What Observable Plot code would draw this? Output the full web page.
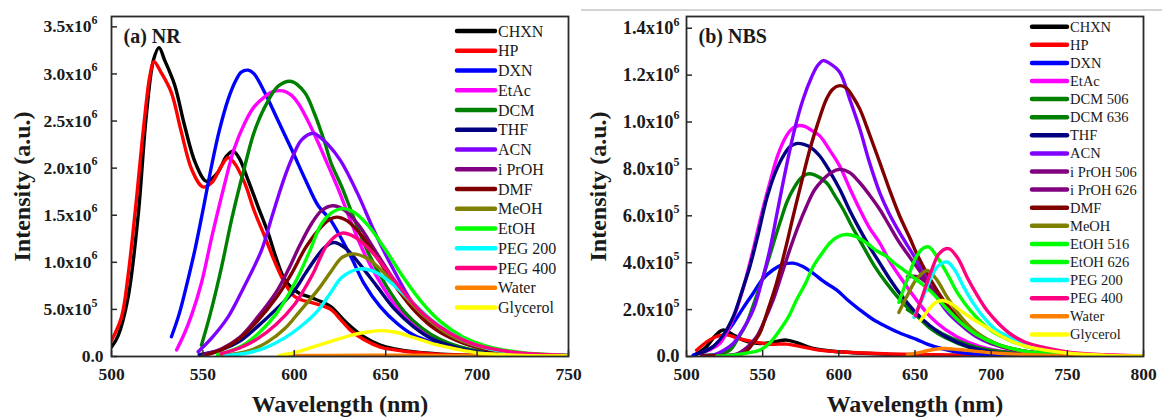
<!DOCTYPE html>
<html>
<head>
<meta charset="utf-8">
<script src="https://cdn.jsdelivr.net/npm/d3@7"></script>
<script src="https://cdn.jsdelivr.net/npm/@observablehq/plot@0.6"></script>
<style>
  body { margin: 0; background: #fff; }
  #wrap { position: relative; width: 1162px; height: 419px; overflow: hidden; background: #fff; }
  #wrap svg { position: absolute; top: 0; }
</style>
</head>
<body>
<div id="wrap"></div>
<script>
// ---------- (a) NR emission spectra, intensity in units of 10^6 ----------
const nrNames = ["CHXN", "HP", "DXN", "EtAc", "DCM", "THF", "ACN", "i PrOH", "DMF", "MeOH", "EtOH", "PEG 200", "PEG 400", "Water", "Glycerol"];
const nrColors = ["#000000", "#ff0000", "#0000ff", "#ff00ff", "#008000", "#000080", "#8000ff", "#800080", "#800000", "#808000", "#00ff00", "#00ffff", "#ff0080", "#ff8000", "#ffff00"];

const nrCHXN = [[500,0.10],[503.6,0.22],[509,0.62],[514.6,1.50],[519,2.55],[523,3.15],[526,3.28],[529,3.15],[534.6,2.88],[540,2.45],[546,2.05],[552,1.86],[558,1.95],[563,2.13],[566.6,2.18],[570,2.10],[574,1.91],[580,1.60],[585.7,1.31],[590,1.05],[595,0.81],[602,0.68],[610,0.62],[615,0.58],[620,0.53],[625,0.43],[630.7,0.32],[638,0.21],[647,0.12],[655,0.08],[665,0.05],[680,0.025],[700,0.012],[725,0.006],[750,0.003]];
const nrHP = [[500,0.17],[505.5,0.42],[509,0.85],[512.7,1.49],[518.2,2.55],[521,2.98],[523.3,3.13],[527,3.02],[532.8,2.80],[538,2.40],[544,1.98],[550,1.80],[555,1.85],[560,2.02],[563.8,2.11],[567,2.06],[572.9,1.84],[578,1.55],[583.9,1.27],[589,1.02],[594.8,0.78],[600,0.64],[604,0.60],[610,0.57],[615,0.54],[620,0.50],[625,0.40],[630.7,0.28],[638,0.18],[647,0.10],[655,0.07],[665,0.045],[680,0.022],[700,0.01],[725,0.005],[750,0.003]];
const nrDXN = [[532.8,0.21],[537,0.45],[541,0.75],[545.6,1.13],[550,1.55],[554.7,2.02],[559,2.40],[563.8,2.73],[568,2.93],[571,3.02],[574.8,3.04],[578,3.00],[583.9,2.80],[590,2.55],[598.5,2.20],[606,1.88],[613.1,1.60],[619.8,1.45],[625.8,1.25],[632,1.02],[638,0.78],[647,0.53],[656.3,0.35],[665,0.23],[674.5,0.156],[688,0.09],[701.9,0.05],[725,0.02],[750,0.008]];
const nrEtAc = [[535.6,0.07],[540,0.25],[544,0.45],[549.2,0.78],[555,1.28],[562,1.84],[567,2.20],[572.9,2.48],[578,2.65],[583.9,2.76],[588,2.81],[593.9,2.82],[598,2.78],[602.1,2.69],[607,2.52],[613.1,2.27],[618,2.05],[624,1.78],[630,1.48],[637,1.15],[645,0.85],[655,0.55],[665,0.34],[675,0.21],[690,0.10],[705,0.05],[725,0.02],[750,0.006]];
const nrDCM = [[549.2,0.12],[554,0.45],[560.2,0.95],[566,1.48],[572.9,2.02],[578,2.38],[583.9,2.65],[591.2,2.87],[598.5,2.92],[605.8,2.80],[611,2.58],[616.7,2.27],[620,2.06],[626,1.80],[632,1.50],[640,1.12],[650,0.76],[660,0.48],[670,0.30],[680,0.18],[695,0.08],[710,0.04],[730,0.015],[750,0.006]];
const nrTHF = [[548,0.02],[560,0.07],[570,0.16],[580,0.32],[590,0.50],[600,0.70],[606,0.88],[612,1.05],[616.7,1.16],[621.6,1.21],[628,1.15],[635,1.00],[645,0.75],[655,0.50],[665,0.32],[675,0.19],[690,0.09],[705,0.04],[725,0.015],[750,0.005]];
const nrACN = [[547.4,0.05],[555,0.20],[563.8,0.42],[572,0.72],[582.1,1.13],[588,1.50],[594.8,1.91],[600,2.16],[604,2.30],[610.3,2.37],[614,2.33],[618.5,2.25],[625.3,2.08],[634.4,1.74],[643.5,1.34],[650,1.08],[656.3,0.85],[663,0.62],[670.8,0.42],[680,0.27],[689.1,0.17],[700,0.10],[711,0.065],[730,0.025],[750,0.01]];
const nrIPrOH = [[550,0.02],[560,0.08],[570,0.20],[580,0.42],[590,0.68],[596.7,0.92],[603,1.18],[609.4,1.41],[615,1.55],[621,1.60],[627,1.56],[635,1.40],[645,1.10],[655,0.80],[665,0.54],[675,0.35],[690,0.17],[705,0.08],[725,0.025],[750,0.008]];
const nrDMF = [[552,0.02],[560,0.07],[570,0.19],[580,0.38],[590,0.62],[598.5,0.88],[606,1.15],[613.1,1.34],[619,1.45],[623,1.48],[629,1.44],[637,1.28],[647,1.00],[657,0.70],[667,0.46],[677,0.29],[690,0.16],[705,0.075],[725,0.025],[750,0.008]];
const nrMeOH = [[560,0.01],[575,0.06],[585,0.15],[595,0.30],[603,0.48],[613,0.71],[620,0.90],[626,1.05],[632,1.09],[640,1.04],[650,0.87],[660,0.65],[670,0.45],[685,0.23],[700,0.11],[725,0.035],[750,0.01]];
const nrEtOH = [[558,0.02],[565,0.06],[572,0.12],[580,0.24],[590,0.45],[600.3,0.78],[608,1.10],[614.9,1.41],[620,1.52],[626,1.57],[632,1.54],[640,1.40],[650,1.13],[660,0.83],[670,0.57],[680,0.37],[692,0.21],[705,0.11],[725,0.04],[750,0.012]];
const nrPEG200 = [[562,0.01],[575,0.04],[585,0.10],[595,0.20],[603,0.31],[613,0.49],[620,0.68],[626,0.84],[636,0.93],[645,0.89],[655,0.75],[665,0.57],[675,0.39],[690,0.20],[705,0.09],[725,0.03],[750,0.01]];
const nrPEG400 = [[560,0.03],[570,0.09],[580,0.19],[590,0.34],[600,0.55],[605,0.70],[610,0.87],[618.5,1.20],[626,1.31],[633,1.27],[642,1.12],[652,0.88],[662,0.63],[672,0.43],[685,0.25],[700,0.12],[720,0.045],[750,0.012]];
const nrWater = [[592,0.008],[620,0.012],[650,0.015],[680,0.012],[710,0.01],[750,0.008]];
const nrGlycerol = [[591.5,0.01],[600,0.04],[610,0.10],[620,0.16],[630,0.22],[640,0.26],[648,0.275],[656,0.255],[665.4,0.20],[675,0.14],[683.6,0.10],[692,0.065],[702,0.035],[725,0.012],[750,0.005]];
const nrSeries = [nrCHXN, nrHP, nrDXN, nrEtAc, nrDCM, nrTHF, nrACN, nrIPrOH, nrDMF, nrMeOH, nrEtOH, nrPEG200, nrPEG400, nrWater, nrGlycerol];

const nrXTicks = [500, 550, 600, 650, 700, 750];
const nrYTicks = [0, 0.5, 1, 1.5, 2, 2.5, 3, 3.5];
const nrYLabels = ["0.0", "5.0x10^5", "1.0x10^6", "1.5x10^6", "2.0x10^6", "2.5x10^6", "3.0x10^6", "3.5x10^6"];

// ---------- (b) NBS emission spectra, intensity in units of 10^6 ----------
const nbsNames = ["CHXN", "HP", "DXN", "EtAc", "DCM 506", "DCM 636", "THF", "ACN", "i PrOH 506", "i PrOH 626", "DMF", "MeOH", "EtOH 516", "EtOH 626", "PEG 200", "PEG 400", "Water", "Glycerol"];
const nbsColors = ["#000000", "#ff0000", "#0000ff", "#ff00ff", "#008000", "#008000", "#000080", "#8000ff", "#800080", "#800080", "#800000", "#808000", "#00ff00", "#00ff00", "#00ffff", "#ff0080", "#ff8000", "#ffff00"];

const nbsCHXN = [[505,0.005],[513.1,0.042],[519,0.09],[524.1,0.113],[530,0.095],[537.2,0.07],[544,0.058],[550.4,0.056],[558,0.063],[565.6,0.07],[572,0.06],[583.2,0.034],[600.6,0.02],[630,0.01],[670,0.005],[720,0.003],[800,0.001]];
const nbsHP = [[506.6,0.027],[515,0.07],[521,0.088],[526.3,0.092],[535,0.075],[543.8,0.063],[555,0.052],[565.6,0.053],[575,0.042],[587.5,0.027],[600,0.02],[630,0.012],[670,0.007],[720,0.004],[800,0.002]];
const nbsDXN = [[504.4,0.006],[510,0.018],[517.5,0.042],[524,0.085],[530.7,0.141],[537,0.205],[543.8,0.27],[550,0.33],[556.9,0.37],[563,0.392],[570,0.398],[576,0.385],[583.2,0.355],[590,0.32],[598.5,0.284],[606,0.24],[613.8,0.199],[622,0.16],[631.3,0.127],[640,0.10],[651,0.073],[658,0.053],[668,0.033],[679.9,0.017],[700,0.007],[750,0.002],[800,0.001]];
const nbsEtAc = [[508.7,0.013],[515,0.028],[521.9,0.056],[527,0.11],[532.8,0.199],[538,0.31],[543.8,0.456],[549,0.60],[554.7,0.741],[560,0.86],[565.6,0.941],[570,0.975],[574,0.985],[578,0.98],[582,0.965],[587.5,0.941],[594,0.88],[600.6,0.812],[607,0.72],[613.8,0.627],[620,0.55],[626.9,0.484],[633,0.41],[640,0.341],[651,0.241],[660,0.17],[670,0.115],[685,0.06],[700,0.03],[725,0.01],[750,0.004],[800,0.001]];
const nbsDCM506 = [[510,0.005],[520,0.01],[528.4,0.027],[534,0.08],[539.4,0.141],[545,0.24],[550.4,0.341],[556,0.46],[561.3,0.57],[566,0.66],[570,0.713],[575,0.76],[579,0.778],[584,0.775],[591.9,0.741],[597,0.69],[602.9,0.627],[609,0.55],[616,0.47],[623,0.39],[631.3,0.313],[642.3,0.227],[651,0.175],[660,0.12],[670,0.08],[685,0.04],[700,0.02],[730,0.006],[760,0.002],[800,0.001]];
const nbsDCM636 = [[645,0.20],[652,0.17],[662,0.12],[675,0.075],[690,0.04],[710,0.018],[740,0.006],[770,0.002],[800,0.001]];
const nbsTHF = [[506.6,0.01],[512,0.022],[517.5,0.042],[524,0.09],[530.7,0.17],[536,0.27],[541.6,0.384],[547,0.52],[552.5,0.67],[558,0.78],[563.5,0.855],[568,0.895],[572,0.908],[577,0.905],[582,0.89],[587.5,0.855],[594,0.79],[600.6,0.713],[607,0.625],[613.8,0.541],[620,0.47],[626.9,0.398],[633,0.335],[640,0.27],[651,0.184],[660,0.13],[670,0.085],[685,0.042],[700,0.02],[730,0.006],[760,0.002],[800,0.001]];
const nbsACN = [[510,0.003],[517.5,0.006],[524,0.025],[530.7,0.056],[537,0.115],[543.8,0.199],[549,0.31],[554.7,0.456],[560,0.63],[565.6,0.812],[571,0.97],[576.6,1.098],[582,1.19],[586,1.24],[589.7,1.262],[594,1.25],[600.6,1.212],[607,1.10],[613.8,0.97],[620,0.83],[626.9,0.698],[633,0.61],[640,0.527],[651,0.41],[660,0.30],[670,0.20],[680,0.135],[690,0.085],[700,0.055],[720,0.022],[750,0.007],[800,0.001]];
const nbsIPrOH506 = [[515,0.002],[525,0.004],[532.8,0.01],[540,0.04],[546,0.084],[551,0.15],[556.9,0.241],[562,0.34],[567.8,0.456],[573,0.55],[578.8,0.641],[584,0.71],[589.7,0.755],[595,0.785],[600.6,0.798],[607,0.785],[613.8,0.741],[620,0.69],[626.9,0.627],[633,0.56],[640,0.484],[651,0.384],[660,0.30],[670,0.21],[680,0.14],[690,0.09],[705,0.045],[725,0.018],[750,0.006],[800,0.001]];
const nbsIPrOH626 = [[645,0.34],[652,0.34],[660,0.30],[670,0.22],[680,0.15],[690,0.095],[705,0.048],[725,0.019],[750,0.006],[800,0.001]];
const nbsDMF = [[510,0.002],[525,0.004],[537.2,0.013],[543,0.05],[548.1,0.099],[553,0.19],[559.1,0.313],[565,0.46],[570,0.598],[575,0.73],[581,0.884],[586,0.99],[591.9,1.098],[596,1.14],[600.6,1.155],[605,1.145],[609,1.11],[613.8,1.055],[620,0.95],[626.9,0.827],[633.9,0.70],[640,0.598],[647,0.50],[651,0.44],[660,0.33],[668.9,0.239],[680,0.155],[690.8,0.096],[705,0.05],[725,0.02],[750,0.007],[800,0.001]];
const nbsMeOH = [[639.4,0.188],[645,0.26],[651,0.33],[658,0.367],[664,0.33],[671.1,0.253],[680,0.17],[690,0.105],[705,0.05],[725,0.018],[750,0.006],[800,0.001]];
const nbsEtOH516 = [[520,0.002],[530.7,0.006],[540,0.015],[548.1,0.027],[555,0.06],[561.3,0.113],[567,0.17],[572.2,0.241],[578,0.31],[583.2,0.384],[589,0.44],[594.1,0.484],[599,0.51],[605,0.52],[611,0.512],[618.2,0.484],[625,0.45],[631.3,0.427],[636.1,0.40],[642.3,0.37],[651,0.327],[660,0.28],[670,0.21],[680,0.145],[690,0.095],[705,0.05],[725,0.02],[750,0.007],[800,0.001]];
const nbsEtOH626 = [[639.4,0.231],[645,0.33],[651,0.427],[655,0.46],[659,0.467],[664,0.43],[671.1,0.353],[678,0.27],[686.4,0.196],[700,0.11],[712.7,0.067],[730,0.03],[750,0.012],[780,0.003],[800,0.001]];
const nbsPEG200 = [[649.3,0.167],[655,0.25],[660,0.33],[665,0.385],[671.1,0.403],[676,0.37],[682,0.296],[688,0.23],[695.2,0.167],[703,0.115],[712.7,0.081],[725,0.045],[750,0.015],[775,0.005],[800,0.002]];
const nbsPEG400 = [[650.3,0.174],[655,0.26],[661,0.37],[666,0.44],[672.1,0.46],[678,0.42],[684.2,0.338],[690,0.27],[697.3,0.196],[705,0.14],[712.7,0.096],[722,0.062],[734.6,0.039],[750,0.02],[767.4,0.01],[800,0.003]];
const nbsWater = [[645,0.008],[655,0.02],[662,0.03],[669,0.034],[678,0.03],[690,0.022],[705,0.014],[725,0.008],[750,0.004],[800,0.001]];
const nbsGlycerol = [[653.6,0.153],[659,0.20],[663,0.228],[667.8,0.239],[673,0.228],[679.9,0.196],[688,0.16],[697.3,0.124],[705,0.093],[712.7,0.067],[725,0.04],[750,0.015],[775,0.005],[800,0.002]];
const nbsSeries = [nbsCHXN, nbsHP, nbsDXN, nbsEtAc, nbsDCM506, nbsDCM636, nbsTHF, nbsACN, nbsIPrOH506, nbsIPrOH626, nbsDMF, nbsMeOH, nbsEtOH516, nbsEtOH626, nbsPEG200, nbsPEG400, nbsWater, nbsGlycerol];

const nbsXTicks = [500, 550, 600, 650, 700, 750, 800];
const nbsYTicks = [0, 0.2, 0.4, 0.6, 0.8, 1.0, 1.2, 1.4];
const nbsYLabels = ["0.0", "2.0x10^5", "4.0x10^5", "6.0x10^5", "8.0x10^5", "1.0x10^6", "1.2x10^6", "1.4x10^6"];

const SERIF = "'Liberation Serif', 'Times New Roman', serif";
const INK = "#1a1a1a";

function drawPanel(cfg) {
  const rows = cfg.series.flatMap((pts, i) => pts.map(([wl, v]) => ({name: cfg.names[i], wl, v})));
  const yLabel = new Map(cfg.yTicks.map((t, i) => [t, cfg.yLabels[i]]));

  const svg = Plot.plot({
    width: 581,
    height: 419,
    marginLeft: cfg.marginLeft,
    marginRight: cfg.marginRight,
    marginTop: 16,
    marginBottom: 63,
    x: {domain: cfg.xDomain},
    y: {domain: cfg.yDomain},
    color: {domain: cfg.names, range: cfg.colors},
    style: {fontFamily: SERIF, background: "transparent", color: INK, overflow: "visible"},
    marks: [
      Plot.lineY(rows, {x: "wl", y: "v", z: "name", stroke: "name", strokeWidth: 3.4, curve: "catmull-rom", clip: true}),
      Plot.frame({stroke: "#2a2a2a", strokeWidth: 1.8}),
      Plot.axisX(cfg.xTicks, {
        tickSize: -6, tickPadding: 17, label: null,
        fontSize: 17.5, fontWeight: "bold", fill: INK, stroke: "#2a2a2a", strokeWidth: 1.5,
        tickFormat: d => String(d)
      }),
      Plot.axisY(cfg.yTicks, {
        tickSize: -6, tickPadding: cfg.yPad, label: null,
        fontSize: cfg.yFont, fontWeight: "bold", fill: INK, stroke: "#2a2a2a", strokeWidth: 1.5,
        tickFormat: d => yLabel.get(d)
      }),
      Plot.text([cfg.title], {text: d => d, frameAnchor: "top-left", dx: 12, dy: 12, fontSize: 20, fontWeight: "bold", fill: INK}),
      Plot.text(["Wavelength (nm)"], {text: d => d, frameAnchor: "bottom", dy: 38, lineAnchor: "top", textAnchor: "middle", fontSize: 24, fontWeight: "bold", fill: INK}),
      Plot.text(["Intensity (a.u.)"], {text: d => d, frameAnchor: "left", dx: cfg.yTitleDx, rotate: -90, textAnchor: "middle", lineAnchor: "middle", fontSize: 24, fontWeight: "bold", fill: INK})
    ]
  });

  // superscript exponents on the y tick labels ("x10^6")
  d3.select(svg).selectAll('g[aria-label="y-axis tick label"] text').each(function () {
    const s = this.textContent;
    const k = s.indexOf("^");
    if (k < 0) return;
    this.textContent = "";
    const t = d3.select(this);
    t.append("tspan").text(s.slice(0, k));
    t.append("tspan").attr("dy", -8.5).attr("font-size", 12).text(s.slice(k + 1));
    if (cfg.supShift) {
      const tr = this.getAttribute("transform") || "";
      this.setAttribute("transform", `${tr} translate(${cfg.supShift},0)`);
    }
  });

  // legend: swatch line + solvent name, one row per series
  const color = svg.scale("color");
  const lg = d3.select(svg).append("g")
    .attr("font-family", SERIF)
    .attr("font-size", cfg.legendFont)
    .attr("font-weight", "normal")
    .attr("text-anchor", "start")
    .attr("fill", INK);
  cfg.names.forEach((n, i) => {
    const y = cfg.legendY + i * cfg.legendStep;
    lg.append("line")
      .attr("x1", cfg.legendX).attr("x2", cfg.legendX + cfg.legendLen)
      .attr("y1", y).attr("y2", y)
      .attr("stroke", color.apply(n)).attr("stroke-width", 4.5).attr("stroke-linecap", "round");
    lg.append("text")
      .attr("x", cfg.legendX + cfg.legendLen + 3).attr("y", y).attr("dy", "0.35em")
      .attr("text-anchor", "start")
      .text(n);
  });

  if (cfg.topRule) {
    d3.select(svg).append("line")
      .attr("x1", 0).attr("x2", 581).attr("y1", 10).attr("y2", 10)
      .attr("stroke", "#c4c4c4").attr("stroke-width", 1.5);
  }

  svg.style.left = cfg.left + "px";
  document.getElementById("wrap").appendChild(svg);
}

drawPanel({
  left: 0, marginLeft: 111, marginRight: 13,
  names: nrNames, colors: nrColors, series: nrSeries,
  xDomain: [500, 750], yDomain: [0, 3.61],
  xTicks: nrXTicks, yTicks: nrYTicks, yLabels: nrYLabels,
  yPad: 14, yFont: 17.5, supShift: -6, yTitleDx: -89,
  title: "(a) NR",
  legendX: 457, legendLen: 38, legendY: 31, legendStep: 19.75, legendFont: 16,
  topRule: false
});

drawPanel({
  left: 581, marginLeft: 105, marginRight: 19,
  names: nbsNames, colors: nbsColors, series: nbsSeries,
  xDomain: [500, 800], yDomain: [0, 1.45],
  xTicks: nbsXTicks, yTicks: nbsYTicks, yLabels: nbsYLabels,
  yPad: 13, yFont: 18.5, supShift: 0, yTitleDx: -88,
  title: "(b) NBS",
  legendX: 451, legendLen: 35, legendY: 26.7, legendStep: 18.1, legendFont: 14.5,
  topRule: true
});
</script>
</body>
</html>
